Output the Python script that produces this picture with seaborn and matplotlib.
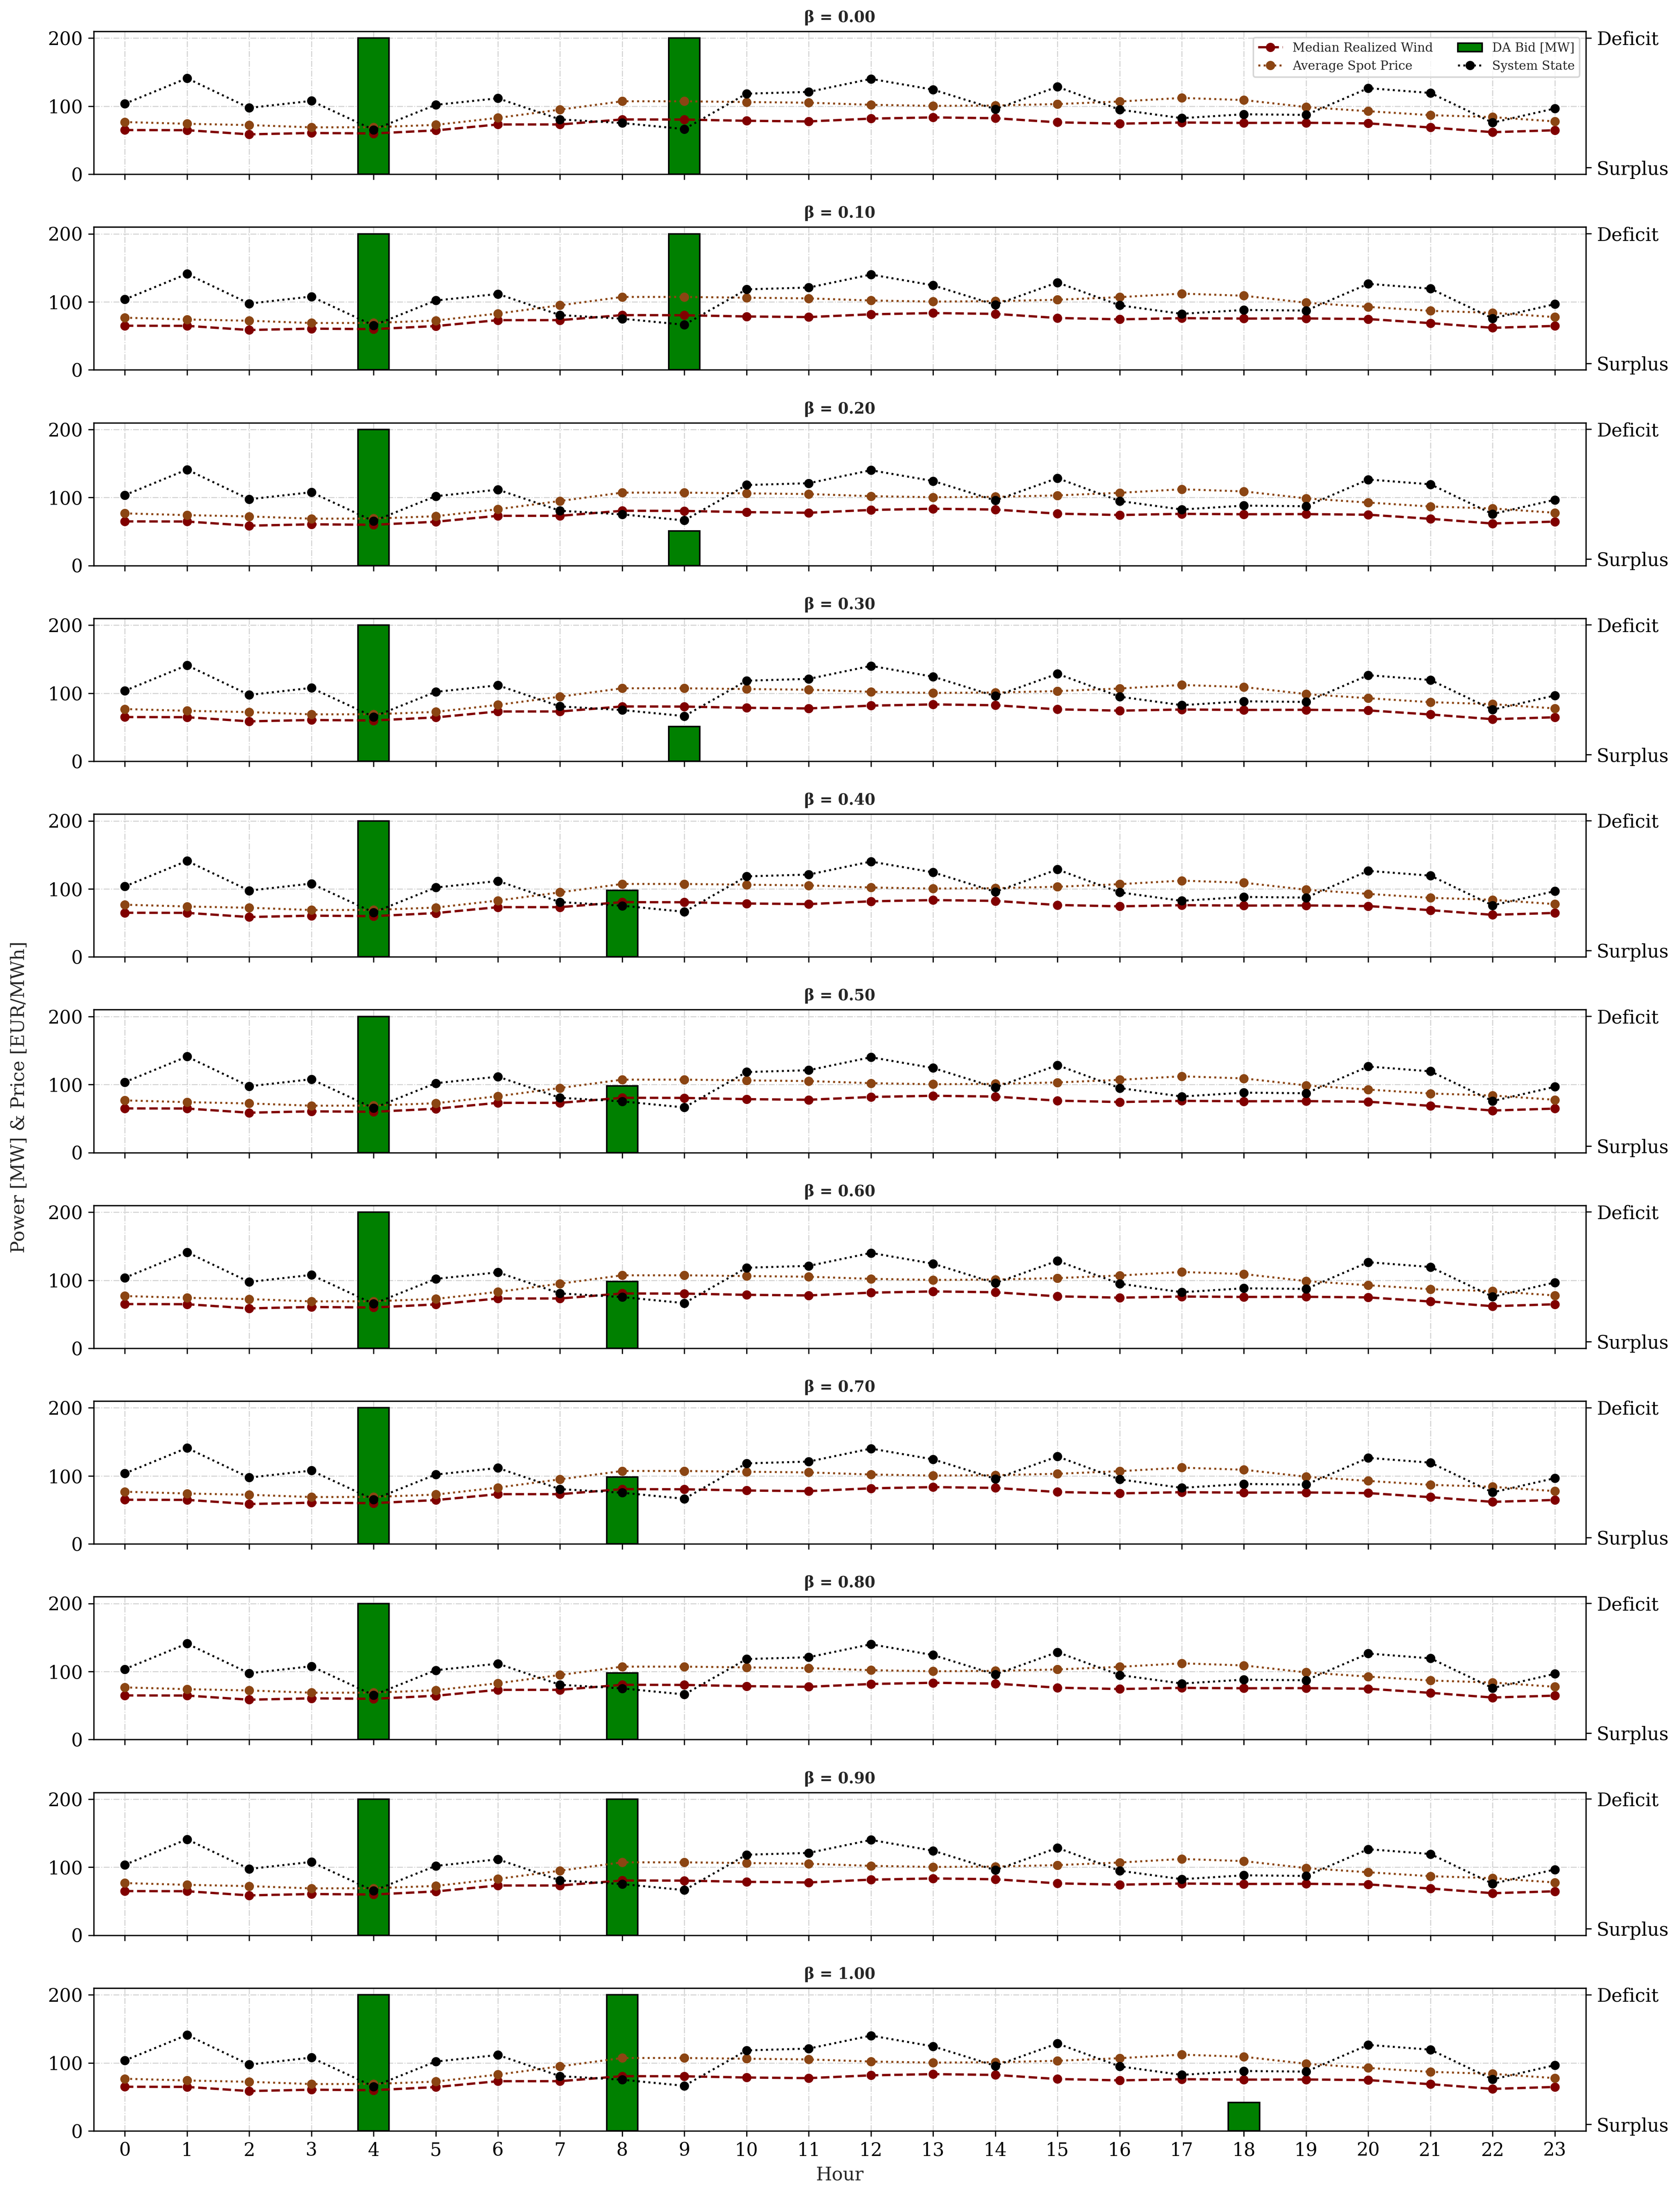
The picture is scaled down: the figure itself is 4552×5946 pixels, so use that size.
import numpy as np
import pandas as pd
import matplotlib
matplotlib.use("Agg")
import matplotlib.pyplot as plt
import seaborn as sns
from matplotlib.patches import Patch
from matplotlib.lines import Line2D

# ---------------- data ----------------
hours = list(range(24))
betas = [0.00, 0.10, 0.20, 0.30, 0.40, 0.50, 0.60, 0.70, 0.80, 0.90, 1.00]

median_wind = [64.9, 64.7, 58.6, 60.6, 59.9, 64.4, 73.1, 73.1, 80.5, 80.3, 78.5, 77.6,
               81.7, 83.5, 82.3, 76.3, 74.3, 76.0, 75.4, 75.6, 74.7, 68.7, 61.8, 64.6]
avg_price = [76.7, 74.1, 72.2, 68.9, 69.0, 72.5, 82.8, 94.9, 107.2, 107.2, 106.1, 105.1,
             102.0, 100.4, 101.0, 103.1, 106.9, 112.1, 109.0, 98.7, 92.6, 86.8, 83.9, 77.6]
# system state on the right axis (-1 = Surplus, +1 = Deficit)
system_state = [-0.015, 0.378, -0.079, 0.029, -0.416, -0.032, 0.069, -0.256, -0.312, -0.405,
                0.140, 0.168, 0.368, 0.202, -0.097, 0.246, -0.106, -0.237, -0.177, -0.187,
                0.225, 0.151, -0.306, -0.088]

bid_b000 = [0, 0, 0, 0, 200, 0, 0, 0, 0, 200, 0, 0, 0, 0, 0, 0, 0, 0, 0, 0, 0, 0, 0, 0]
bid_b010 = [0, 0, 0, 0, 200, 0, 0, 0, 0, 200, 0, 0, 0, 0, 0, 0, 0, 0, 0, 0, 0, 0, 0, 0]
bid_b020 = [0, 0, 0, 0, 200, 0, 0, 0, 0, 51, 0, 0, 0, 0, 0, 0, 0, 0, 0, 0, 0, 0, 0, 0]
bid_b030 = [0, 0, 0, 0, 200, 0, 0, 0, 0, 51, 0, 0, 0, 0, 0, 0, 0, 0, 0, 0, 0, 0, 0, 0]
bid_b040 = [0, 0, 0, 0, 200, 0, 0, 0, 98, 0, 0, 0, 0, 0, 0, 0, 0, 0, 0, 0, 0, 0, 0, 0]
bid_b050 = [0, 0, 0, 0, 200, 0, 0, 0, 98, 0, 0, 0, 0, 0, 0, 0, 0, 0, 0, 0, 0, 0, 0, 0]
bid_b060 = [0, 0, 0, 0, 200, 0, 0, 0, 98, 0, 0, 0, 0, 0, 0, 0, 0, 0, 0, 0, 0, 0, 0, 0]
bid_b070 = [0, 0, 0, 0, 200, 0, 0, 0, 98, 0, 0, 0, 0, 0, 0, 0, 0, 0, 0, 0, 0, 0, 0, 0]
bid_b080 = [0, 0, 0, 0, 200, 0, 0, 0, 98, 0, 0, 0, 0, 0, 0, 0, 0, 0, 0, 0, 0, 0, 0, 0]
bid_b090 = [0, 0, 0, 0, 200, 0, 0, 0, 200, 0, 0, 0, 0, 0, 0, 0, 0, 0, 0, 0, 0, 0, 0, 0]
bid_b100 = [0, 0, 0, 0, 200, 0, 0, 0, 200, 0, 0, 0, 0, 0, 0, 0, 0, 0, 42, 0, 0, 0, 0, 0]
bids = [bid_b000, bid_b010, bid_b020, bid_b030, bid_b040, bid_b050,
        bid_b060, bid_b070, bid_b080, bid_b090, bid_b100]

state_labels = ["Surplus", "Deficit"]
legend_labels = ["Median Realized Wind", "Average Spot Price", "DA Bid [MW]", "System State"]

# ---------------- style ----------------
sns.set_style("ticks")
plt.rcParams["font.family"] = ["DejaVu Serif"]
plt.rcParams["axes.edgecolor"] = "black"
plt.rcParams["xtick.color"] = "black"
plt.rcParams["ytick.color"] = "black"

c_wind = "#800000"
c_price = "#8B4513"
c_state = "black"
c_bid = "green"

W, H = 4552, 5946
fig, axes = plt.subplots(len(betas), 1, figsize=(W / 300, H / 300), dpi=300, sharex=True)
fig.subplots_adjust(left=254 / W, right=4297 / W, top=1 - 85 / H, bottom=1 - 5775 / H, hspace=0.37)

lw = pd.DataFrame({"hour": hours, "wind": median_wind, "price": avg_price, "state": system_state})

for i, (ax, beta, bid) in enumerate(zip(axes, betas, bids)):
    bh = [h for h, v in zip(hours, bid) if v > 0]
    bv = [v for v in bid if v > 0]
    ax.bar(bh, bv, width=0.5, color=c_bid, edgecolor="black", linewidth=1.0, zorder=2)
    sns.lineplot(data=lw, x="hour", y="wind", ax=ax, color=c_wind, linestyle="--",
                 linewidth=1.5, marker="o", markersize=6, markeredgecolor=c_wind,
                 markeredgewidth=0, zorder=3, legend=False)
    sns.lineplot(data=lw, x="hour", y="price", ax=ax, color=c_price, linestyle=":",
                 linewidth=1.3, marker="o", markersize=6, markeredgecolor=c_price,
                 markeredgewidth=0, zorder=3, legend=False)
    ax.set_ylim(0, 210)
    ax.set_yticks([0, 100, 200])
    ax.set_xlim(-0.5, 23.5)
    ax.set_xticks(hours)
    ax.grid(True, linestyle="-.", color="#b0b0b0", linewidth=0.6, alpha=0.6)
    ax.set_axisbelow(True)
    ax.tick_params(axis="both", labelsize=12, length=3.5, width=0.8)
    ax.set_ylabel("")
    ax.set_xlabel("")
    ax.set_title(f"β = {beta:.2f}", fontsize=10, fontweight="bold")
    for s in ax.spines.values():
        s.set_visible(True)
        s.set_linewidth(0.8)

    ax2 = ax.twinx()
    sns.lineplot(data=lw, x="hour", y="state", ax=ax2, color=c_state, linestyle=":",
                 linewidth=1.3, marker="o", markersize=6, markeredgecolor=c_state,
                 markeredgewidth=0, zorder=3, legend=False)
    ax2.set_ylim(-1.1, 1.1)
    ax2.set_yticks([-1, 1])
    ax2.set_yticklabels(state_labels)
    ax2.tick_params(axis="y", labelsize=12, length=3.5, width=0.8)
    ax2.set_ylabel("")
    ax2.grid(False)
    for s in ax2.spines.values():
        s.set_visible(True)
        s.set_linewidth(0.8)

    if i == 0:
        handles = [
            Line2D([], [], color=c_wind, linestyle="--", linewidth=1.5, marker="o", markersize=6,
                   markeredgewidth=0),
            Line2D([], [], color=c_price, linestyle=":", linewidth=1.3, marker="o", markersize=6,
                   markeredgewidth=0),
            Patch(facecolor=c_bid, edgecolor="black"),
            Line2D([], [], color=c_state, linestyle=":", linewidth=1.3, marker="o", markersize=6,
                   markeredgewidth=0),
        ]
        ax2.legend(handles, legend_labels, loc="upper right", ncol=2, fontsize=8, frameon=True)

axes[-1].set_xlabel("Hour", fontsize=12)
axes[-1].tick_params(axis="x", labelsize=12)
fig.text(52 / W, 0.5, "Power [MW] & Price [EUR/MWh]", rotation=90, va="center", ha="center",
         fontsize=12)

fig.savefig("out.png", dpi=300)
